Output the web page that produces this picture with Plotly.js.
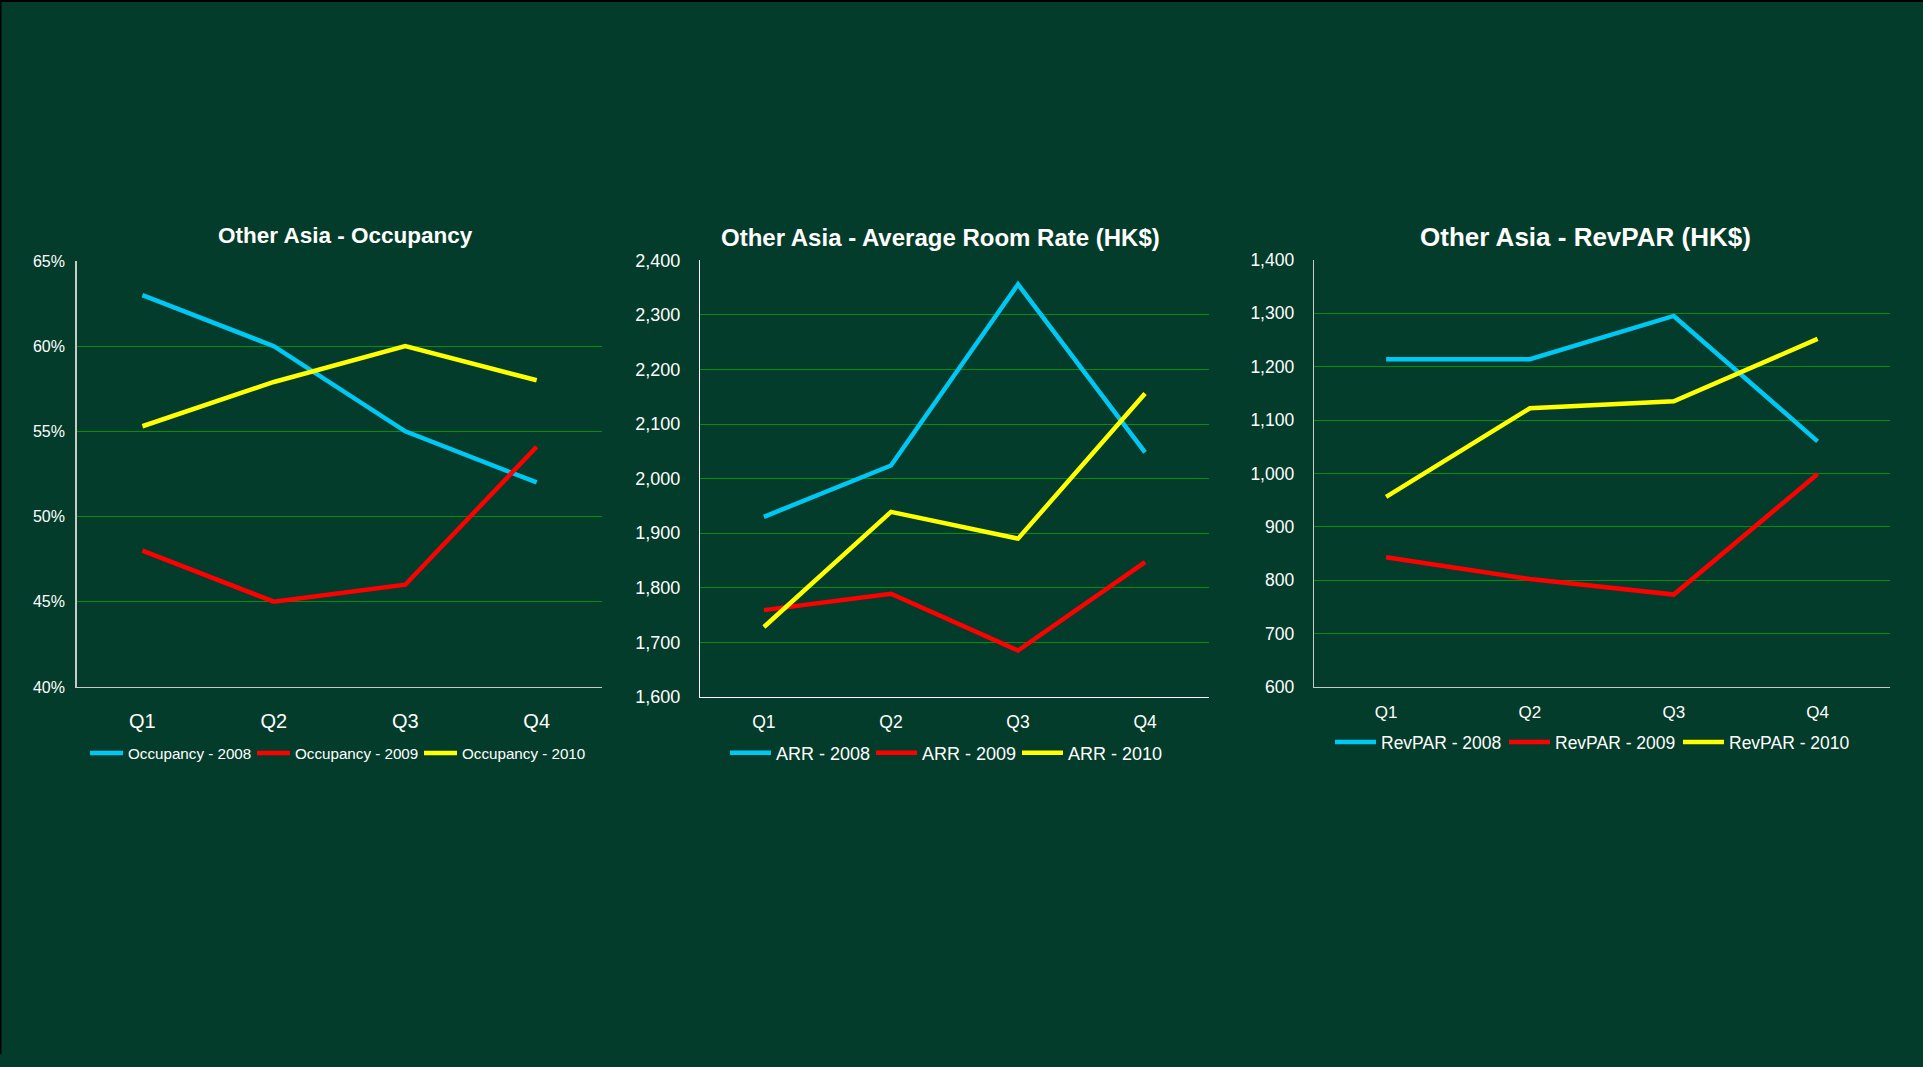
<!DOCTYPE html>
<html>
<head>
<meta charset="utf-8">
<script src="https://cdn.plot.ly/plotly-3.0.1.min.js"></script>
<style>
  html, body { margin: 0; padding: 0; background: #033c2a; }
  #chart { width: 1923px; height: 1067px; }
</style>
</head>
<body>
<div id="chart"></div>
<script>
// ---- data ----
const quarters = ['Q1', 'Q2', 'Q3', 'Q4'];

const occupancyTitle = 'Other Asia - Occupancy';
const occupancy2008 = [63.0, 60.0, 55.0, 52.0];
const occupancy2009 = [48.0, 45.0, 46.0, 54.1];
const occupancy2010 = [55.3, 57.9, 60.0, 58.0];
const occupancyNames = ['Occupancy - 2008', 'Occupancy - 2009', 'Occupancy - 2010'];
const occupancyTicks = [40, 45, 50, 55, 60, 65];
const occupancyTickText = ['40%', '45%', '50%', '55%', '60%', '65%'];

const arrTitle = 'Other Asia - Average Room Rate (HK$)';
const arr2008 = [1930, 2024, 2356, 2048];
const arr2009 = [1759, 1789, 1685, 1847];
const arr2010 = [1728, 1939, 1890, 2156];
const arrNames = ['ARR - 2008', 'ARR - 2009', 'ARR - 2010'];
const arrTicks = [1600, 1700, 1800, 1900, 2000, 2100, 2200, 2300, 2400];
const arrTickText = ['1,600', '1,700', '1,800', '1,900', '2,000', '2,100', '2,200', '2,300', '2,400'];

const revparTitle = 'Other Asia - RevPAR (HK$)';
const revpar2008 = [1214, 1214, 1295, 1060];
const revpar2009 = [843, 802, 773, 999];
const revpar2010 = [956, 1122, 1135, 1252];
const revparNames = ['RevPAR - 2008', 'RevPAR - 2009', 'RevPAR - 2010'];
const revparTicks = [600, 700, 800, 900, 1000, 1100, 1200, 1300, 1400];
const revparTickText = ['600', '700', '800', '900', '1,000', '1,100', '1,200', '1,300', '1,400'];

// ---- styling ----
const W = 1923, H = 1067;
const BG = '#033c2a';
const GRID = '#0b8a12';
const COLORS = ['#00c8f5', '#ff0000', '#ffff00'];
const FONT = '"Liberation Sans", Arial, sans-serif';

const fx = px => px / W;
const fy = py => 1 - py / H;

const panels = [
  { series: [occupancy2008, occupancy2009, occupancy2010], names: occupancyNames, title: occupancyTitle,
    ticks: occupancyTicks, tickText: occupancyTickText,
    left: 76.7, right: 602.4, top: 261, bottom: 686.9, axisColor: '#c9c9c9',
    tickSize: 16, xSize: 20, xStand: 16, yStand: 7,
    titleSize: 22.5, titleX: 345, titleY: 235,
    legSize: 15.2, legX: 85, legY: 753, legW: 119, itemW: 33 },
  { series: [arr2008, arr2009, arr2010], names: arrNames, title: arrTitle,
    ticks: arrTicks, tickText: arrTickText,
    left: 700.4, right: 1208.6, top: 260.3, bottom: 696.9, axisColor: '#ffffff',
    tickSize: 18, xSize: 17.5, xStand: 9, yStand: 15,
    titleSize: 24, titleX: 940.7, titleY: 237,
    legSize: 18, legX: 725, legY: 753, legW: 90, itemW: 41 },
  { series: [revpar2008, revpar2009, revpar2010], names: revparNames, title: revparTitle,
    ticks: revparTicks, tickText: revparTickText,
    left: 1314.2, right: 1889.5, top: 259.9, bottom: 686.9, axisColor: '#c9c9c9',
    tickSize: 17.5, xSize: 17, xStand: 9, yStand: 15,
    titleSize: 26, titleX: 1585.5, titleY: 237,
    legSize: 17.5, legX: 1330, legY: 742, legW: 118, itemW: 41 }
];

const traces = [];
const layout = {
  width: W, height: H,
  margin: { l: 0, r: 0, t: 0, b: 0 },
  paper_bgcolor: BG, plot_bgcolor: BG,
  showlegend: true,
  annotations: [],
  shapes: [
    { type: 'line', xref: 'paper', yref: 'paper', x0: 0, x1: 1, y0: 1, y1: 1, line: { color: '#000000', width: 4 } },
    { type: 'line', xref: 'paper', yref: 'paper', x0: 0, x1: 0, y0: 0.012, y1: 1, line: { color: '#000000', width: 3 } }
  ]
};

panels.forEach((p, i) => {
  const n = i === 0 ? '' : String(i + 1);
  const legendKey = 'legend' + n;
  p.series.forEach((vals, k) => {
    traces.push({
      type: 'scatter', mode: 'lines',
      x: quarters, y: vals, name: p.names[k],
      xaxis: 'x' + n, yaxis: 'y' + n, legend: legendKey,
      line: { color: COLORS[k], width: 4.5 },
      hoverinfo: 'skip'
    });
  });
  const lo = p.ticks[0], hi = p.ticks[p.ticks.length - 1];
  layout['xaxis' + n] = {
    domain: [fx(p.left), fx(p.right)], anchor: 'y' + n,
    type: 'category', range: [-0.5, 3.5],
    showgrid: false, zeroline: false,
    showline: true, linecolor: p.axisColor, linewidth: 1.5,
    ticks: '', ticklabelstandoff: p.xStand,
    tickfont: { family: FONT, size: p.xSize, color: '#ffffff' }, fixedrange: true
  };
  layout['yaxis' + n] = {
    domain: [fy(p.bottom), fy(p.top)], anchor: 'x' + n,
    range: [lo, hi], tickmode: 'array', tickvals: p.ticks, ticktext: p.tickText,
    showgrid: true, gridcolor: GRID, gridwidth: 1, zeroline: false,
    showline: true, linecolor: p.axisColor, linewidth: 1.5,
    ticks: '', ticklabelstandoff: p.yStand,
    tickfont: { family: FONT, size: p.tickSize, color: '#ffffff' }, fixedrange: true
  };
  layout[legendKey] = {
    orientation: 'h', x: fx(p.legX), xanchor: 'left', y: fy(p.legY), yanchor: 'middle',
    bgcolor: 'rgba(0,0,0,0)', borderwidth: 0,
    font: { family: FONT, size: p.legSize, color: '#ffffff' },
    entrywidth: p.legW, entrywidthmode: 'pixels', itemwidth: p.itemW,
    itemclick: false, itemdoubleclick: false
  };
  layout.annotations.push({
    xref: 'paper', yref: 'paper', x: fx(p.titleX), y: fy(p.titleY),
    xanchor: 'center', yanchor: 'middle', showarrow: false,
    text: p.title, font: { family: FONT, size: p.titleSize, weight: 'bold', color: '#ffffff' }
  });
});

Plotly.newPlot('chart', traces, layout, { staticPlot: true, displayModeBar: false });
</script>
</body>
</html>
